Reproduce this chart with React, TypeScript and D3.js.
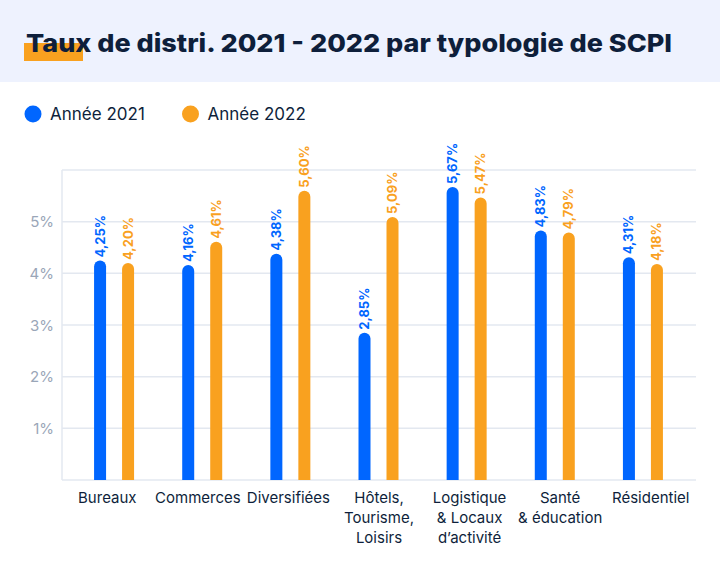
import React from "react";
import * as d3 from "d3";

const categories: string[][] = [
  ["Bureaux"],
  ["Commerces"],
  ["Diversifiées"],
  ["Hôtels,", "Tourisme,", "Loisirs"],
  ["Logistique", "& Locaux", "d’activité"],
  ["Santé", "& éducation"],
  ["Résidentiel"],
];
const values2021 = [4.25, 4.16, 4.38, 2.85, 5.67, 4.83, 4.31];
const values2022 = [4.2, 4.61, 5.6, 5.09, 5.47, 4.79, 4.18];
const seriesNames = ["Année 2021", "Année 2022"];
const yTicks = [1, 2, 3, 4, 5];
const title = "Taux de distri. 2021 - 2022 par typologie de SCPI";

const W = 720;
const H = 570;
const BLUE = "#0066FF";
const ORANGE = "#F9A11F";
const NAVY = "#0E1F3B";
const GRID = "#E3E8F0";
const FONT = "Inter, 'Noto Sans', sans-serif";

const plot = { left: 62, right: 696, top: 170, bottom: 480 };

export default function App() {
  const x = d3
    .scaleBand<number>()
    .domain(d3.range(categories.length))
    .range([70, 687]);
  const xLabel = d3
    .scaleBand<number>()
    .domain(d3.range(categories.length))
    .range([plot.left, plot.right]);
  const y = d3.scaleLinear().domain([0, 6]).range([plot.bottom, plot.top]);
  const barW = 12;
  const offset = 14;

  const barPath = (cx: number, v: number) => {
    const top = y(v);
    const r = barW / 2;
    const x0 = cx - r;
    const x1 = cx + r;
    return `M${x0},${plot.bottom} L${x0},${top + r} A${r},${r} 0 0 1 ${x1},${top + r} L${x1},${plot.bottom} Z`;
  };

  const series = [
    { vals: values2021, color: BLUE, dx: -offset },
    { vals: values2022, color: ORANGE, dx: offset },
  ];

  return (
    <svg
      width={W}
      height={H}
      style={{ position: "absolute", left: 0, top: 0, background: "#fff" }}
      fontFamily={FONT}
    >
      <rect x={0} y={0} width={W} height={82} fill="#EEF2FE" />
      <rect x={24} y={43} width={59} height={18} fill={ORANGE} />
      <text
        x={26}
        y={52}
        fontSize={25}
        fontWeight={800}
        fill={NAVY}
        textLength={646}
        lengthAdjust="spacingAndGlyphs"
      >
        {title}
      </text>

      {/* legend */}
      {seriesNames.map((n, i) => (
        <g key={n} transform={`translate(${i === 0 ? 33 : 190.5},114)`}>
          <circle r={8.5} fill={i === 0 ? BLUE : ORANGE} />
          <text x={17} y={6} fontSize={17} fill={NAVY}>
            {n}
          </text>
        </g>
      ))}

      {/* grid */}
      {[0, ...yTicks, 6].map((t) => (
        <line
          key={t}
          x1={plot.left}
          x2={plot.right}
          y1={y(t)}
          y2={y(t)}
          stroke={GRID}
          strokeWidth={1.5}
        />
      ))}
      <line
        x1={plot.left}
        x2={plot.left}
        y1={plot.top}
        y2={plot.bottom}
        stroke={GRID}
        strokeWidth={1.5}
      />
      {yTicks.map((t) => (
        <text
          key={t}
          x={54}
          y={y(t) + 5.5}
          textAnchor="end"
          fontSize={15}
          fill="#9AA6B8"
        >
          {`${t}%`}
        </text>
      ))}

      {/* bars */}
      {series.map((s, si) =>
        s.vals.map((v, i) => {
          const cx = (x(i) as number) + x.bandwidth() / 2 + s.dx;
          const ty = y(v) - 3;
          return (
            <g key={`${si}-${i}`}>
              <path d={barPath(cx, v)} fill={s.color} />
              <text
                transform={`translate(${cx + 4.5},${ty}) rotate(-90)`}
                fontSize={13}
                fontWeight={700}
                fill={s.color}
              >
                {v.toFixed(2).replace(".", ",") + "%"}
              </text>
            </g>
          );
        })
      )}

      {/* x labels */}
      {categories.map((lines, i) => {
        const cx = (xLabel(i) as number) + xLabel.bandwidth() / 2;
        return (
          <text key={i} textAnchor="middle" fontSize={15} fill={NAVY}>
            {lines.map((l, j) => (
              <tspan key={j} x={cx} y={502.5 + j * 20}>
                {l}
              </tspan>
            ))}
          </text>
        );
      })}
    </svg>
  );
}
